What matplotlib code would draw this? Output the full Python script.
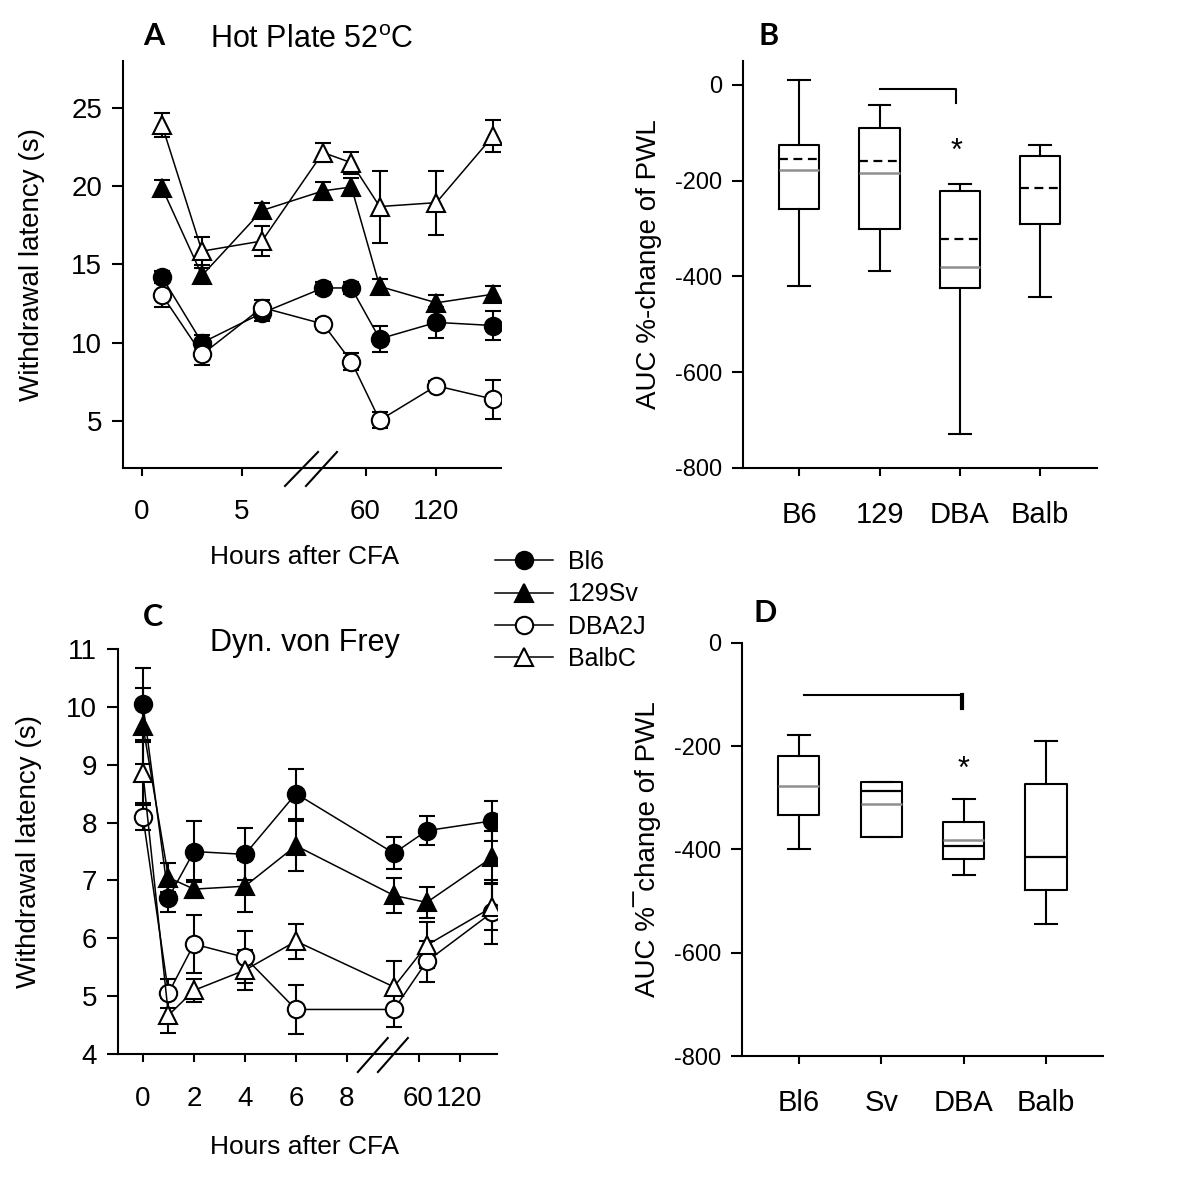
import numpy as np
import matplotlib
matplotlib.use('Agg')
import matplotlib.pyplot as plt
from matplotlib.lines import Line2D

plt.rcParams['font.family'] = ['Liberation Sans', 'DejaVu Sans']
plt.rcParams['mathtext.fontset'] = 'custom'
plt.rcParams['mathtext.rm'] = 'Liberation Sans'
plt.rcParams['axes.unicode_minus'] = False

strains = ['Bl6', '129Sv', 'DBA2J', 'BalbC']
markers = ['o', '^', 'o', '^']
faces = ['black', 'black', 'white', 'white']

# panel A: hot plate 52 C, withdrawal latency (s)
hp_hours = [1, 3, 6, 24, 48, 72, 120, 168]
hp_mean = [
    [14.2, 10.0, 11.9, 13.5, 13.5, 10.25, 11.3, 11.1],   # Bl6
    [19.9, 14.3, 18.45, 19.7, 19.95, 13.6, 12.55, 13.1],  # 129Sv
    [13.05, 9.25, 12.25, 11.2, 8.8, 5.05, 7.25, 6.4],    # DBA2J
    [23.9, 15.85, 16.5, 22.15, 21.5, 18.7, 18.95, 23.2],  # BalbC
]
hp_err = [
    [0.4, 0.5, 0.5, 0.4, 0.4, 0.85, 1.0, 0.9],
    [0.5, 0.5, 0.5, 0.6, 0.6, 0.5, 0.5, 0.5],
    [0.75, 0.7, 0.5, 0.3, 0.55, 0.5, 0.3, 1.25],
    [0.75, 0.9, 0.95, 0.6, 0.7, 2.3, 2.05, 1.0],
]

# panel C: dynamic von Frey, withdrawal latency (s)
vf_hours = [0, 1, 2, 4, 6, 24, 72, 168]
vf_mean = [
    [10.05, 6.7, 7.5, 7.45, 8.5, 7.47, 7.86, 8.03],
    [9.67, 7.05, 6.85, 6.9, 7.6, 6.74, 6.62, 7.4],
    [8.1, 5.05, 5.9, 5.67, 4.77, 4.77, 5.6, 6.45],
    [8.85, 4.67, 5.1, 5.45, 5.95, 5.16, 5.88, 6.54],
]
vf_err = [
    [0.62, 0.25, 0.52, 0.45, 0.43, 0.28, 0.25, 0.35],
    [0.65, 0.25, 0.15, 0.45, 0.43, 0.3, 0.27, 0.45],
    [0.23, 0.25, 0.5, 0.45, 0.43, 0.3, 0.35, 0.55],
    [0.55, 0.3, 0.2, 0.35, 0.3, 0.45, 0.4, 0.4],
]

# panel B: AUC %-change of PWL (hot plate)
b_groups = ['B6', '129', 'DBA', 'Balb']
b_whishi = [10, -43, -207, -125]
b_q3 = [-125, -90, -222, -148]
b_median = [-178, -184, -380, np.nan]
b_mean = [-155, -159, -322, -216]
b_q1 = [-260, -301, -425, -290]
b_whislo = [-421, -388, -730, -443]

# panel D: AUC %-change of PWL (von Frey)
d_groups = ['Bl6', 'Sv', 'DBA', 'Balb']
d_whishi = [-178, -270, -302, -189]
d_q3 = [-219, -270, -347, -273]
d_median = [-277, -311, -382, np.nan]
d_mean = [np.nan, -287, -393, -414]
d_q1 = [-334, -375, -418, -478]
d_whislo = [-400, -375, -450, -545]

fig = plt.figure(figsize=(12, 11.77), dpi=100)


def broken_scale(split, restart, scale):
    pre = [-100, split, 24, 1000]
    post = [-100, split, restart, restart + (1000 - 24) * scale]
    return (lambda h: np.interp(h, pre, post), lambda p: np.interp(p, post, pre))


def style_axes(ax):
    for s in ['top', 'right']:
        ax.spines[s].set_visible(False)
    for s in ['left', 'bottom']:
        ax.spines[s].set_linewidth(1.5)
    ax.tick_params(axis='y', direction='out', length=8, width=1.5, pad=7)
    ax.tick_params(axis='x', direction='out', length=6, width=1.5)


def time_course(ax, hours, means, errs):
    for k in range(4):
        ax.errorbar(hours, means[k], yerr=errs[k], color='black', lw=1.1,
                    marker=markers[k], ms=12.5, mfc=faces[k], mec='black',
                    mew=1.5, ecolor='black', elinewidth=1.5, capsize=6,
                    capthick=1.5)


# ---- panel A
axA = fig.add_axes([0.1025, 0.6024, 0.315, 0.3458])
style_axes(axA)
axA.set_xscale('function', functions=broken_scale(8, 9.05, 0.059))
time_course(axA, hp_hours, hp_mean, hp_err)
axA.set_xlim(-0.95, 174.8)
axA.set_ylim(2, 28)
axA.set_xticks([0, 5, 60, 120])
axA.set_xticklabels(['0', '5', '60', '120'])
axA.set_yticks([5, 10, 15, 20, 25])
axA.tick_params(labelsize=20)
axA.tick_params(axis='x', pad=16)
axA.set_ylabel('Withdrawal latency (s)', fontsize=20)
axA.yaxis.set_label_coords(-0.207, 0.5)
axA.set_xlabel('Hours after CFA', fontsize=19)
axA.xaxis.set_label_coords(0.481, -0.19)
axA.text(0.5, 1.052, 'Hot Plate 52$^{\\mathrm{o}}$C', transform=axA.transAxes,
         ha='center', va='center', fontsize=22)
for x0, x1 in [(0.4286, 0.5159), (0.4841, 0.5661)]:
    axA.plot([x0, x1], [-0.0442, 0.0393], transform=axA.transAxes,
             color='black', lw=1.5, clip_on=False)

# ---- panel C
axC = fig.add_axes([0.0983, 0.1045, 0.3158, 0.3441])
style_axes(axC)
axC.set_xscale('function', functions=broken_scale(8.04, 9.84, 0.0268))
time_course(axC, vf_hours, vf_mean, vf_err)
axC.set_xlim(-0.98, 174.7)
axC.set_ylim(4, 11)
axC.set_xticks([0, 2, 4, 6, 8, 60, 120])
axC.set_xticklabels(['0', '2', '4', '6', '8', '60', '120'])
axC.set_yticks(range(4, 12))
axC.tick_params(labelsize=20)
axC.tick_params(axis='x', pad=17)
axC.set_ylabel('Withdrawal latency (s)', fontsize=20)
axC.yaxis.set_label_coords(-0.2, 0.5)
axC.set_xlabel('Hours after CFA', fontsize=19)
axC.xaxis.set_label_coords(0.493, -0.2)
axC.text(0.493, 1.015, 'Dyn. von Frey', transform=axC.transAxes,
         ha='center', va='center', fontsize=22)
for x0, x1 in [(0.633, 0.712), (0.686, 0.765)]:
    axC.plot([x0, x1], [-0.0444, 0.0395], transform=axC.transAxes,
             color='black', lw=1.5, clip_on=False)


# ---- box panels
def box_panel(ax, groups, whishi, q3, med, mean, q1, whislo, mean_ls):
    pos = np.arange(1, len(groups) + 1)
    stats = [dict(med=(m if np.isfinite(m) else a), q1=b, q3=c, whislo=d,
                  whishi=e) for m, a, b, c, d, e in
             zip(med, mean, q1, q3, whislo, whishi)]
    lp = dict(color='black', lw=1.5)
    ax.bxp(stats, positions=pos, widths=0.5, showfliers=False,
           boxprops=lp, whiskerprops=lp, capprops=lp,
           medianprops=dict(visible=False), capwidths=0.27)
    ax.hlines(med, pos - 0.25, pos + 0.25, colors='#8f8f8f', lw=1.8)
    ax.hlines(mean, pos - 0.25, pos + 0.25, colors='black', lw=1.6,
              linestyles=mean_ls)
    ax.set_xticks(pos)
    ax.set_xticklabels(groups, fontsize=21)
    ax.set_yticks([0, -200, -400, -600, -800])
    ax.tick_params(axis='y', labelsize=17)
    ax.tick_params(axis='x', pad=18)


axB = fig.add_axes([0.6192, 0.6024, 0.295, 0.3458])
style_axes(axB)
box_panel(axB, b_groups, b_whishi, b_q3, b_median, b_mean, b_q1, b_whislo,
          (0, (4, 2.5)))
axB.set_xlim(0.30, 4.71)
axB.set_ylim(-800, 50)
axB.set_ylabel('AUC %-change of PWL', fontsize=20)
axB.yaxis.set_label_coords(-0.228, 0.5)
axB.plot([2, 2.95, 2.95], [-8, -8, -38], color='black', lw=1.5)
axB.text(2.96, -140, '*', ha='center', va='center', fontsize=22)

axD = fig.add_axes([0.6183, 0.1028, 0.3008, 0.3509])
style_axes(axD)
box_panel(axD, d_groups, d_whishi, d_q3, d_median, d_mean, d_q1, d_whislo,
          'solid')
axD.set_xlim(0.31, 4.69)
axD.set_ylim(-800, 0)
axD.set_ylabel('AUC %\u00afchange of PWL', fontsize=20)
axD.yaxis.set_label_coords(-0.223, 0.5)
axD.plot([1.06, 2.98], [-101, -101], color='black', lw=1.5)
axD.plot([2.98, 2.98], [-101, -126], color='black', lw=3)
axD.text(3.0, -245, '*', ha='center', va='center', fontsize=22)

# ---- panel letters
for lab, x, y in [('A', 154, 36), ('B', 769, 36), ('C', 153, 617),
                  ('D', 765, 613)]:
    fig.text(x / 1200, 1 - y / 1177, lab, ha='center', va='center',
             fontsize=22, fontweight='bold', family=['Lato', 'DejaVu Sans'])

# ---- legend
handles = [Line2D([], [], color='black', lw=1.1, marker=markers[k], ms=12.5,
                  mfc=faces[k], mec='black', mew=1.5) for k in range(4)]
fig.legend(handles, strains, loc='upper left',
           bbox_to_anchor=(495 / 1200, 1 - 550 / 1177), borderaxespad=0,
           borderpad=0, handlelength=2.3, handletextpad=0.6,
           labelspacing=0.33, frameon=False, fontsize=18)

fig.savefig('out.png', dpi=100)
